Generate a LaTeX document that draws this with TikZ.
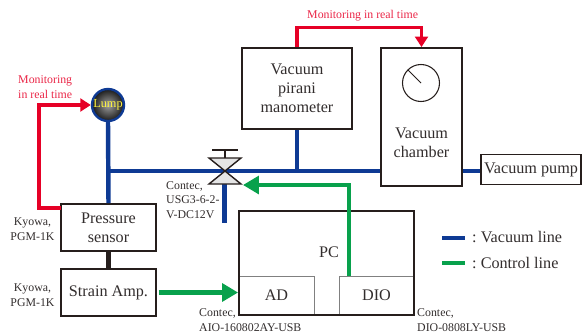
\documentclass[tikz,border=0pt]{standalone}
\usepackage{fontspec}
\setmainfont{Liberation Serif}
\usepackage{tikz}
\usetikzlibrary{arrows.meta,positioning,calc}
\definecolor{vacblue}{RGB}{14,58,148}
\definecolor{ctrlgreen}{RGB}{8,161,76}
\definecolor{monred}{RGB}{230,0,38}
\definecolor{lineblack}{RGB}{38,30,28}
\definecolor{textgray}{RGB}{50,45,45}
\frenchspacing
\tikzset{
    devbox/.style={draw=lineblack, line width=1.6pt, fill=white, inner sep=0pt, align=center, font=\fontsize{13.8}{16.2}\selectfont, text=textgray},
    cardbox/.style={draw=gray, line width=0.8pt, inner sep=0pt, font=\fontsize{13.8}{15}\selectfont, text=textgray},
    vacline/.style={vacblue, line width=3.8pt},
    ctrlline/.style={ctrlgreen, line width=4pt, -{Triangle[length=13.5pt,width=15pt]}},
    monline/.style={monred, line width=2.6pt, -{Triangle[length=9pt,width=11pt]}},
    small/.style={font=\fontsize{10.1}{12.6}\selectfont, text=textgray, inner sep=0pt, align=left},
    montext/.style={font=\fontsize{10.1}{12.8}\selectfont, text=monred!85!white, inner sep=0pt, align=left},
}
\begin{document}
\begin{tikzpicture}[x=0.03cm, y=-0.03cm]
    \useasboundingbox (0,0) rectangle (584,333);

    % Lamp
    \node[circle, draw=vacblue, line width=2pt, minimum size=0.96cm, inner sep=0pt, inner color=gray!75, outer color=black!90,
        font=\fontsize{10.5}{11}\selectfont, text=yellow!75!white] (lamp) at (108,105) {Lump};

    % Named points on the lines
    \coordinate (vacjoint) at (108,171);
    \coordinate (valvemid) at (224.5,171);
    \coordinate (vacstub) at (224.5,223);
    \coordinate (sensorout) at (61,208);
    \coordinate (dioout) at (349,276);
    \coordinate (valvetip) at (243,185);

    % Boxes
    \node[devbox, minimum width=2.85cm, minimum height=1.41cm] (sensor) at (108.5,227.5) {Pressure\\sensor};
    \node[devbox, minimum width=2.85cm, minimum height=1.41cm] (strain) at (108.5,292.5) {Strain Amp.};
    \draw[lineblack, line width=3.8pt] (sensor.south) -- (strain.north);

    % Vacuum line
    \draw[vacline] (lamp.south) -- (sensor.north);
    \draw[vacline] (vacjoint) -- (531,171);
    \draw[vacline] (valvemid) -- (vacstub);

    \node[devbox, minimum width=3.3cm, minimum height=2.43cm] (pirani) at (297,88.5) {Vacuum\\pirani\\manometer};
    \node[devbox, minimum width=2.43cm, minimum height=4.14cm] (chamber) at (421.5,117) {};
    \node[devbox, minimum width=3cm, minimum height=0.9cm] (pump) at (531,169.5) {Vacuum pump};
    \draw[vacline] (pirani.south) -- (pirani.south |- vacjoint);

    % Chamber gauge
    \node[circle, draw=lineblack, line width=0.9pt, minimum size=1.11cm, inner sep=0pt] (gauge) at (421,83) {};
    \draw[lineblack, line width=0.9pt] (gauge.center) -- (408,70);
    \node[font=\fontsize{13.8}{16.2}\selectfont, text=textgray, align=center] (chamberlabel) at (421.5,142.5) {Vacuum\\chamber};

    % Valve
    \draw[lineblack, fill=gray!20, line width=1.2pt] (209,158) -- (241,158) -- (209,184) -- (241,184) -- cycle;
    \draw[lineblack, line width=1.2pt] (225,158) -- (225,150) (212,150) -- (238,150);

    % PC
    \node[cardbox, minimum width=2.25cm, minimum height=1.17cm, text depth=-6pt] (ad) at (276.5,295.5) {AD};
    \node[cardbox, minimum width=2.25cm, minimum height=1.17cm, text depth=-6pt] (dio) at (376.5,295.5) {DIO};
    \node[draw=lineblack, line width=1.6pt, minimum width=5.25cm, minimum height=3.12cm] (pc) at (326.5,263) {};
    \node[font=\fontsize{13.8}{15}\selectfont, text=textgray] (pclabel) at (329,252) {PC};

    % Control lines
    \draw[ctrlline] (dioout) |- (valvetip);
    \draw[ctrlline] (strain.east) ++(2,0) -- (pc.west |- strain.east);

    % Monitoring lines
    \draw[monline] (sensorout) -- ++(-22,0) |- (lamp.west);
    \draw[monline] (pirani.north) -- ++(0,-20) -| (chamber.north);

    % Labels
    \node[montext, anchor=west] (montextlamp) at (18,87.5) {Monitoring\\in real time};
    \node[montext, anchor=west] (montexttop) at (307,16) {Monitoring in real time};
    \node[small, align=center] (kyowaa) at (32.5,229) {Kyowa,\\PGM-1K};
    \node[small, align=center] (kyowab) at (32.5,295) {Kyowa,\\PGM-1K};
    \node[small, anchor=west] (contecvalve) at (166,200) {Contec,\\USG3-6-2-\\V-DC12V};
    \node[small, anchor=west] (contecad) at (199,320) {Contec,\\AIO-160802AY-USB};
    \node[small, anchor=west] (contecdio) at (417,320) {Contec,\\DIO-0808LY-USB};

    % Legend
    \coordinate (legvacs) at (442,238);
    \coordinate (legvace) at (465,238);
    \coordinate (legctrls) at (442,263);
    \coordinate (legctrle) at (465,263);
    \draw[vacblue, line width=3pt] (legvacs) -- (legvace);
    \draw[ctrlgreen, line width=3pt] (legctrls) -- (legctrle);
    \node[font=\fontsize{13.8}{15}\selectfont, text=textgray, anchor=west, inner sep=0pt] (legvac) at (472,237) {: Vacuum line};
    \node[font=\fontsize{13.8}{15}\selectfont, text=textgray, anchor=west, inner sep=0pt] (legctrl) at (472,263) {: Control line};
\end{tikzpicture}
\end{document}
